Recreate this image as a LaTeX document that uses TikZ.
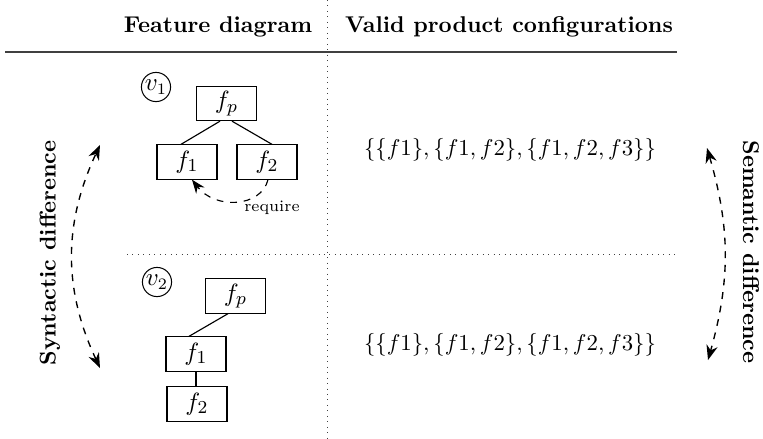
\documentclass[tikz,border=0pt]{standalone}
\usetikzlibrary{arrows.meta,calc}
\begin{document}
\begin{tikzpicture}[x=0.4386pt,y=-0.4386pt,
  feat/.style={draw,line width=0.5pt,minimum width=26.3pt,minimum height=15pt,inner sep=0pt,
    font=\fontsize{11}{13}\selectfont},
  ver/.style={draw,circle,line width=0.45pt,inner sep=0.4pt,minimum size=12.3pt,
    font=\fontsize{10.5}{12}\selectfont},
  edge/.style={line width=0.5pt},
  sep/.style={dotted,line width=0.4pt,black!75},
  diffarrow/.style={dashed,line width=0.6pt,
    {Stealth[length=6.5pt,width=5pt]}-{Stealth[length=6.5pt,width=5pt]}},
  lbl/.style={font=\bfseries}]
\useasboundingbox (0,0) rectangle (763,438);

% column headers
\node[lbl,anchor=base] (hfd) at (218,32) {Feature diagram};
\node[lbl,anchor=base] (hpc) at (509,32) {Valid product configurations};

% table rules
\coordinate (rl) at (5,52);
\coordinate (rr) at (677,52);
\draw[line width=0.8pt,black!75] (rl) -- (rr);
\coordinate (vt) at (327,0);
\coordinate (vb) at (327,438);
\draw[sep] (vt) -- (vb);
\coordinate (ml) at (127,254);
\coordinate (mr) at (677,254);
\draw[sep] (ml) -- (mr);

% version 1
\node[ver] (v1) at (156,87) {$v_1$};
\node[feat] (a-fp) at (226.5,103.5) {$f_p$};
\node[feat] (a-f1) at (187,162) {$f_1$};
\node[feat] (a-f2) at (267,162) {$f_2$};
\draw[edge] ($(a-fp.south)+(-6.5,0)$) -- ($(a-f1.north)+(-6,0)$);
\draw[edge] ($(a-fp.south)+(5.5,0)$) -- ($(a-f2.north)+(5,0)$);
\draw[dashed,line width=0.5pt,-{Stealth[length=6pt,width=4.6pt]}]
  ($(a-f2.south)+(1,0)$) .. controls ($(a-f2.south)+(-6,28)$) and ($(a-f1.south)+(28,30)$) .. ($(a-f1.south)+(5,0)$);
\node[font=\scriptsize] (req) at (272,208) {require};

% version 2
\node[ver] (v2) at (157,282) {$v_2$};
\node[feat] (b-fp) at (235.5,296) {$f_p$};
\node[feat] (b-f1) at (196,354) {$f_1$};
\node[feat] (b-f2) at (197,404) {$f_2$};
\draw[edge] ($(b-fp.south)+(-7.5,0)$) -- ($(b-f1.north)+(-7,0)$);
\draw[edge] (b-f1.south) -- (b-f1.south |- b-f2.north);

% product configurations
\node (s1) at (510,150) {$\{\{f1\},\{f1,f2\},\{f1,f2,f3\}\}$};
\node (s2) at (510,345) {$\{\{f1\},\{f1,f2\},\{f1,f2,f3\}\}$};

% differences
\coordinate (sy-b) at (100,368);
\coordinate (sy-t) at (100,145);
\draw[diffarrow] (sy-b) to[bend left=25] (sy-t);
\node[lbl,rotate=90] (syn) at (50,253) {Syntactic difference};

\coordinate (se-t) at (707,148);
\coordinate (se-b) at (708,360);
\draw[diffarrow] (se-t) to[bend left=16] (se-b);
\node[lbl,rotate=-90] (sem) at (751,252) {Semantic difference};
\end{tikzpicture}
\end{document}
